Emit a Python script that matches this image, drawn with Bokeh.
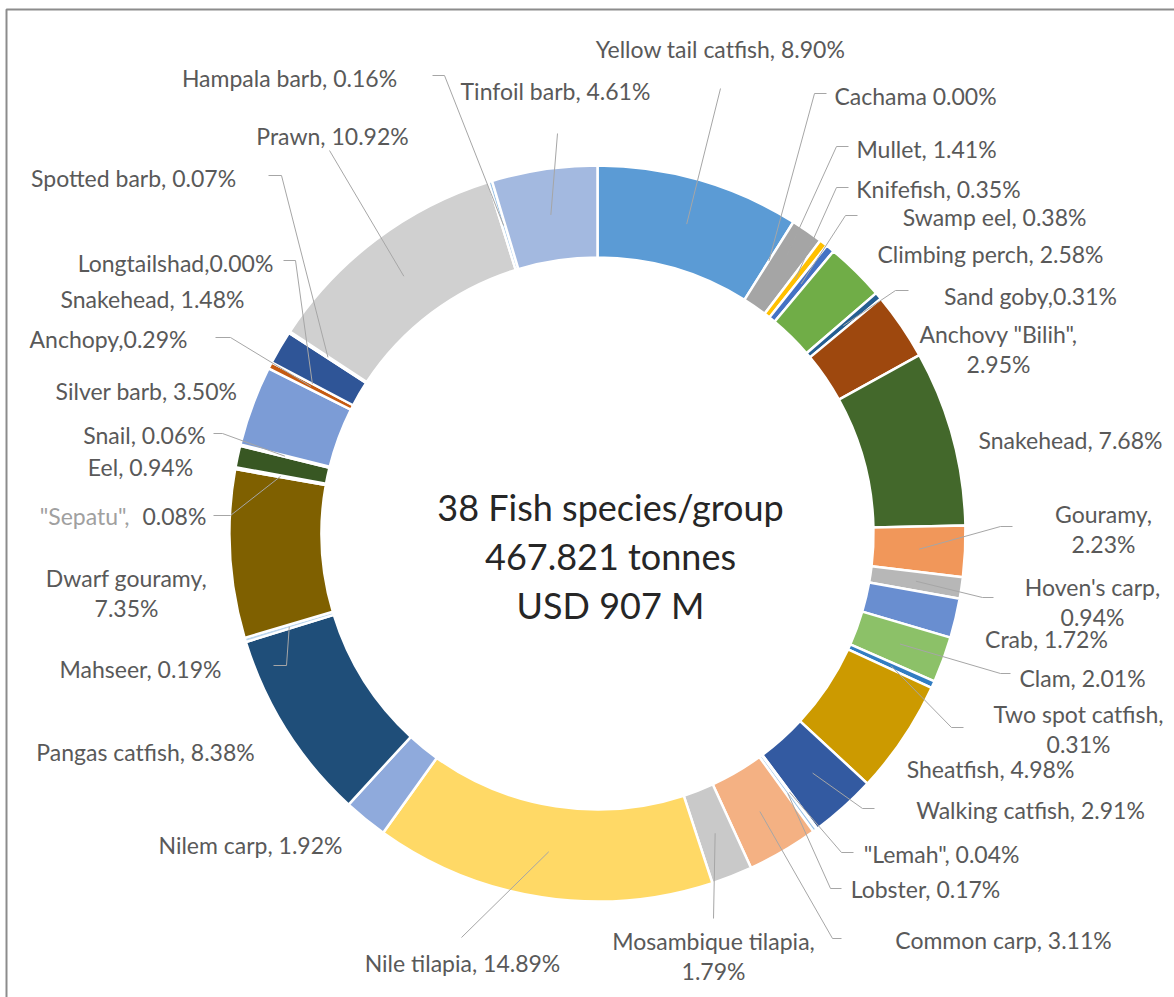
import math
from bokeh.plotting import figure
from bokeh.models import Range1d, ColumnDataSource
from bokeh.embed import file_html
from bokeh.resources import INLINE
from bokeh.core.properties import value

# ---------------- data (clockwise from 12 o'clock) ----------------
SPECIES = ['Yellow tail catfish', 'Cachama', 'Mullet', 'Knifefish', 'Swamp  eel',
           'Climbing perch', 'Sand goby', 'Anchovy "Bilih"', 'Snakehead', 'Gouramy',
           "Hoven's carp", 'Crab', 'Clam', 'Two spot catfish', 'Sheatfish',
           'Walking catfish', '"Lemah"', 'Lobster', 'Common carp', 'Mosambique tilapia',
           'Nile tilapia', 'Nilem carp', 'Pangas catfish', 'Mahseer', 'Dwarf gouramy',
           '"Sepatu"', 'Eel', 'Snail', 'Silver barb', 'Anchopy',
           'Longtailshad', 'Snakehead', 'Spotted  barb', 'Prawn', 'Hampala barb',
           'Tinfoil barb']
SHARE_PCT = [8.90, 0.00, 1.41, 0.35, 0.38,
             2.58, 0.31, 2.95, 7.68, 2.23,
             0.94, 1.72, 2.01, 0.31, 4.98,
             2.91, 0.04, 0.17, 3.11, 1.79,
             14.89, 1.92, 8.38, 0.19, 7.35,
             0.08, 0.94, 0.06, 3.50, 0.29,
             0.00, 1.48, 0.07, 10.92, 0.16,
             4.61]
SEPARATOR = [', ', ' ', ', ', ', ', ', ',
             ', ', ',', ',\n', ', ', ',\n',
             ',\n', ', ', ', ', ',\n', ', ',
             ', ', ',  ', ', ', ', ', ',\n',
             ', ', ', ', ', ', ', ', ',\n',
             ',  ', ', ', ', ', ', ', ',',
             ',', ', ', ', ', ', ', ', ',
             ', ']
CENTER_LINES = ["38 Fish species/group", "467.821 tonnes", "USD 907 M"]

# ---------------- styles ----------------
SLICE_COLORS = ['#5B9BD5', '#ED7D31', '#A5A5A5', '#FFC000', '#4472C4',
                '#70AD47', '#255E91', '#9E480E', '#43682B', '#F1975A',
                '#B7B7B7', '#698ED0', '#8CC168', '#327DC2', '#CC9A00',
                '#335AA1', '#5A8A39', '#9DC3E6', '#F4B183', '#C9C9C9',
                '#FFD966', '#8FAADC', '#1F4E79', '#BDD7EE', '#7F6000',
                '#A9D18E', '#385723', '#C5E0B4', '#7C9CD6', '#C55A11',
                '#7B7B7B', '#2F5597', '#BF9000', '#D0D0D0', '#9DC3E6',
                '#A3B9E0']
LABEL_COLOR = "#595959"
NAME_LIGHT = "#A0A0A0"
LEADER_COLOR = "#A6A6A6"
FONT = "Lato"
LABEL_SIZE = "23px"
CENTER_SIZE = "36px"

# ---------------- layout (page pixels, y downwards) ----------------
W, H = 1174, 997
CX, CY = 597, 533
R_OUT, R_IN = 368, 276
R_MID = (R_OUT + R_IN) / 2
LINE_GAP = 30
CENTER_TEXT_X = 610
CENTER_TEXT_Y = [506, 555, 604]

LABEL_POS = [(720, 48), (915, 95), (926, 148), (938, 188), (997, 216),
             (990, 253), (1030, 295), (998, 348), (1070, 439), (1103, 528),
             (1092, 601), (1046, 638), (1082, 677), (1078, 728), (990, 768),
             (1030, 809), (944, 853), (925, 888), (1003, 939), (713, 955),
             (462, 962), (250, 844), (145, 751), (140, 668), (126, 592),
             (120, 515), (140, 466), (144, 434), (146, 390), (108, 338),
             (175, 262), (152, 298), (136, 177), (332, 135), (289, 77),
             (555, 90)]
# label-side points of each leader line (slice end is computed from the data)
LEADER_FROM = [[(720, 88)], [(826, 93), (814, 93)], [(848, 146), (836, 146)],
               [(848, 187), (836, 187)], [(857, 215), (845, 215)],
               None, [(908, 290), (895, 290)], None, None,
               [(1012, 526), (1000, 526)], [(993, 597), (982, 597)], None,
               [(1010, 673), (1000, 673)], [(963, 727), (951, 727)], None,
               [(874, 808), (862, 808)], [(853, 852), (841, 852)],
               [(841, 888), (830, 888)], [(841, 938), (832, 938)],
               [(713, 918)], [(461, 937)], None, None,
               [(273, 665), (286, 665)], None, [(213, 515), (230, 515)], None,
               [(213, 433), (222, 433)], None, [(215, 337), (230, 337)],
               [(283, 260), (295, 260)], None, [(268, 175), (281, 175)],
               [(329, 150)], [(432, 75), (444, 75)], [(557, 133)]]
SPLIT_LABEL = {25: (129, 142)}   # two-colour label: name ends / value starts


def Y(py):
    return H - py


p = figure(width=W, height=H, x_range=Range1d(0, W), y_range=Range1d(0, H),
           output_backend="svg", toolbar_location=None,
           x_axis_type=None, y_axis_type=None, min_border=0,
           outline_line_color=None, background_fill_color="white",
           border_fill_color="white")

# frame (left and top edges visible)
p.line([6, 6, W], [Y(H), Y(9), Y(9)], line_color="#8C8C8C", line_width=2)

total = sum(SHARE_PCT)
cum = 0.0
starts, ends, mids = [], [], []
for v in SHARE_PCT:
    a0 = 2 * math.pi * cum / total
    cum += v
    a1 = 2 * math.pi * cum / total
    starts.append(math.pi / 2 - a0)
    ends.append(math.pi / 2 - a1)
    mids.append((a0 + a1) / 2)

keep = [i for i, v in enumerate(SHARE_PCT) if v > 0]
src = ColumnDataSource(dict(
    start=[starts[i] for i in keep], end=[ends[i] for i in keep],
    color=[SLICE_COLORS[i] for i in keep], name=[SPECIES[i] for i in keep]))
p.annular_wedge(x=CX, y=Y(CY), inner_radius=R_IN, outer_radius=R_OUT,
                start_angle="start", end_angle="end", direction="clock",
                fill_color="color", line_color="white", line_width=2.5,
                source=src)

# leader lines
lx, ly = [], []
for i, pts in enumerate(LEADER_FROM):
    if not pts:
        continue
    mx = CX + R_MID * math.sin(mids[i])
    my = CY - R_MID * math.cos(mids[i])
    lx.append([q[0] for q in pts] + [mx])
    ly.append([Y(q[1]) for q in pts] + [Y(my)])
p.multi_line(lx, ly, line_color=LEADER_COLOR, line_width=1)

# data labels
tx, ty, tt = [], [], []
for i, name in enumerate(SPECIES):
    val = f"{SHARE_PCT[i]:.2f}%"
    x0, y0 = LABEL_POS[i]
    if i in SPLIT_LABEL:
        xa, xb = SPLIT_LABEL[i]
        p.text([xa], [Y(y0)], [name + ","], text_font=value(FONT),
               text_font_size=LABEL_SIZE, text_color=NAME_LIGHT,
               text_align="right", text_baseline="middle")
        p.text([xb], [Y(y0)], [val], text_font=value(FONT),
               text_font_size=LABEL_SIZE, text_color=LABEL_COLOR,
               text_align="left", text_baseline="middle")
        continue
    lines = (name + SEPARATOR[i] + val).split("\n")
    n = len(lines)
    for k, ln in enumerate(lines):
        tx.append(x0)
        ty.append(Y(y0 + (k - (n - 1) / 2) * LINE_GAP))
        tt.append(ln)
p.text(tx, ty, tt, text_font=value(FONT), text_font_size=LABEL_SIZE,
       text_color=LABEL_COLOR, text_align="center", text_baseline="middle")

# centre text
p.text([CENTER_TEXT_X] * 3, [Y(v) for v in CENTER_TEXT_Y], CENTER_LINES,
       text_font=value(FONT), text_font_size=CENTER_SIZE, text_color="#262626",
       text_align="center", text_baseline="alphabetic")

open("out.html", "w").write(file_html(p, INLINE))
